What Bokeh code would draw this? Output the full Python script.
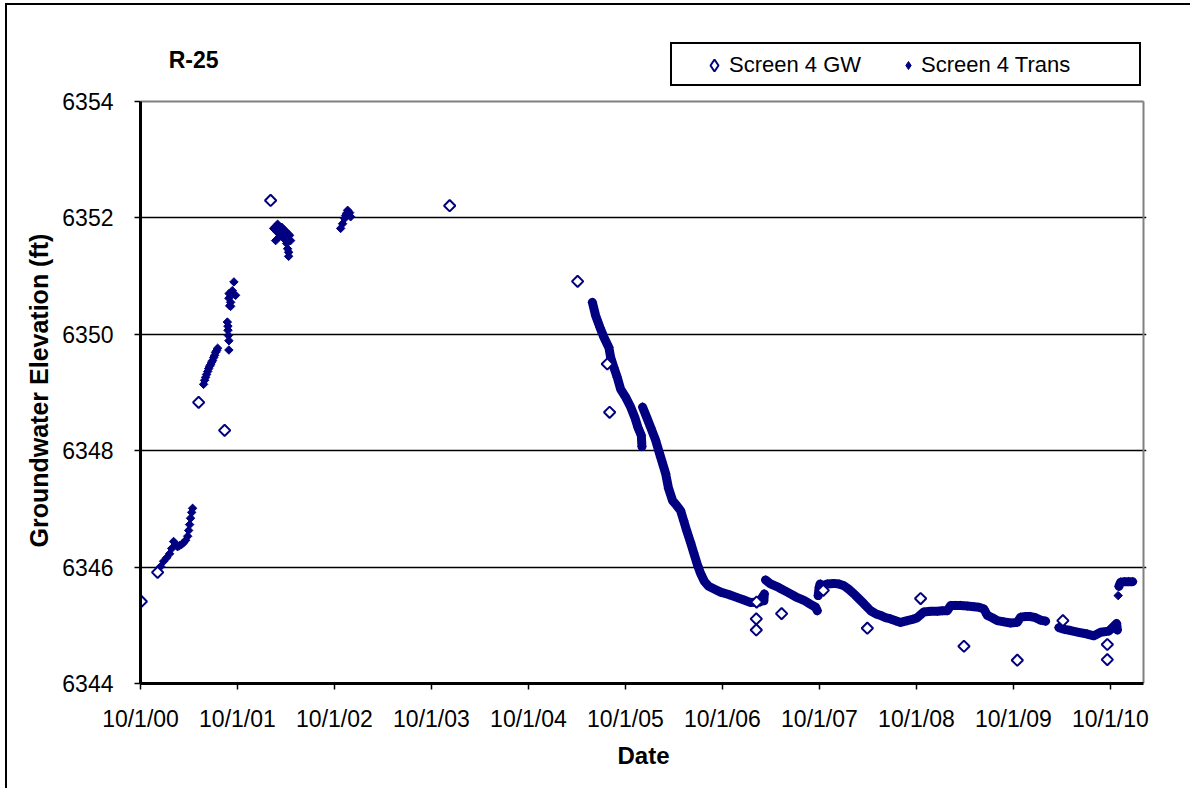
import math
import numpy as np
from bokeh.plotting import figure
from bokeh.models import (FixedTicker, Range1d, Legend, LegendItem, Label, Title,
                          CustomJSTickFormatter)
from bokeh.embed import file_html
from bokeh.resources import INLINE
from bokeh.core.properties import value

# ---------------- data (dates as decimal years) ----------------
tick_years = list(range(2000, 2011))
tick_labels = ["10/1/00", "10/1/01", "10/1/02", "10/1/03", "10/1/04", "10/1/05",
               "10/1/06", "10/1/07", "10/1/08", "10/1/09", "10/1/10"]
y_ticks = [6344, 6346, 6348, 6350, 6352, 6354]

title_text = "R-25"
x_title = "Date"
y_title = "Groundwater  Elevation (ft)"
gw_name = "Screen 4 GW"
trans_name = "Screen 4 Trans"

gw_t = [2000.757, 2000.925, 2001.348, 2001.616, 2002.090, 2003.936, 2005.255,
        2005.561, 2005.585, 2007.101, 2007.097, 2007.097, 2007.358, 2007.788,
        2008.242, 2008.791, 2009.238, 2009.788, 2010.258, 2010.716, 2010.716]
gw_v = [6345.41, 6345.91, 6348.83, 6348.35, 6352.30, 6352.21, 6350.91,
        6349.49, 6348.66, 6345.40, 6345.11, 6344.92, 6345.20, 6345.60,
        6344.95, 6345.46, 6344.64, 6344.40, 6345.08, 6344.67, 6344.41]

trans_t = [
    # late 2000 - spring 2001
    2000.956, 2000.987, 2001.018, 2001.049, 2001.070, 2001.090, 2001.111, 2001.131,
    2001.152, 2001.173, 2001.193, 2001.214, 2001.235, 2001.245, 2001.255, 2001.265,
    2001.276, 2001.286,
    # summer 2001
    2001.399, 2001.410, 2001.420, 2001.430, 2001.441, 2001.451, 2001.461, 2001.472,
    2001.482, 2001.492, 2001.503, 2001.513, 2001.523, 2001.534, 2001.544,
    # Aug-Sep 2001
    2001.644, 2001.650, 2001.650, 2001.655, 2001.660, 2001.660, 2001.660, 2001.662,
    2001.668, 2001.678, 2001.678, 2001.695, 2001.712, 2001.729,
    # winter 2002
    2002.121, 2002.142, 2002.142, 2002.162, 2002.162, 2002.183, 2002.183, 2002.204,
    2002.204, 2002.224, 2002.224, 2002.245, 2002.255, 2002.265, 2002.265, 2002.276,
    2002.276, 2002.286, 2002.296,
    # late 2002
    2002.812, 2002.832, 2002.853, 2002.863, 2002.874, 2002.884, 2002.905, 2002.915,
    # 2005 - 2006 decline
    2005.407, 2005.441, 2005.485, 2005.526, 2005.578,
    2005.595, 2005.629, 2005.664, 2005.698, 2005.750, 2005.802, 2005.843, 2005.877,
    2005.912, 2005.918,
    2005.925, 2005.966, 2006.008, 2006.059, 2006.111, 2006.162, 2006.193, 2006.235,
    2006.276, 2006.317, 2006.348, 2006.379, 2006.420, 2006.451, 2006.492, 2006.523,
    2006.564, 2006.606, 2006.668, 2006.729, 2006.812, 2006.894, 2006.977, 2007.040,
    # 2007
    2007.135, 2007.150, 2007.165, 2007.175, 2007.180,
    2007.193, 2007.245, 2007.327, 2007.417, 2007.503, 2007.588, 2007.657, 2007.709,
    2007.726,
    2007.735, 2007.745, 2007.755, 2007.778,
    # late 2007 - early 2010
    2007.829, 2007.897, 2007.949, 2008.001, 2008.049, 2008.104, 2008.152, 2008.207,
    2008.276, 2008.327, 2008.379, 2008.430, 2008.482, 2008.534, 2008.585, 2008.654,
    2008.706, 2008.757, 2008.825, 2008.894, 2008.963, 2009.015, 2009.066, 2009.101,
    2009.152, 2009.204, 2009.273, 2009.341, 2009.392, 2009.444, 2009.479, 2009.530,
    2009.582, 2009.650, 2009.719, 2009.788, 2009.822, 2009.874, 2009.925, 2009.977,
    2010.028, 2010.080,
    # 2010
    2010.217, 2010.276, 2010.338, 2010.420, 2010.510, 2010.578, 2010.647, 2010.732,
    2010.812, 2010.820, 2010.828, 2010.836, 2010.853, 2010.894, 2010.936, 2010.977,
]
trans_v = [
    6346.01, 6346.10, 6346.16, 6346.23, 6346.32, 6346.44, 6346.39, 6346.35,
    6346.37, 6346.39, 6346.42, 6346.46, 6346.53, 6346.63, 6346.73, 6346.84,
    6346.94, 6347.01,
    6349.14, 6349.21, 6349.26, 6349.31, 6349.36, 6349.41, 6349.45, 6349.48,
    6349.52, 6349.55, 6349.60, 6349.64, 6349.69, 6349.72, 6349.76,
    6350.21, 6350.07, 6350.14, 6349.98, 6349.89, 6349.73, 6350.62, 6350.70,
    6350.49, 6350.55, 6350.48, 6350.75, 6350.90, 6350.67,
    6351.82, 6351.85, 6351.61, 6351.89, 6351.75, 6351.85, 6351.68, 6351.84,
    6351.71, 6351.80, 6351.65, 6351.77, 6351.56, 6351.73, 6351.47, 6351.41,
    6351.34, 6351.70, 6351.61,
    6351.82, 6351.90, 6351.99, 6352.04, 6352.08, 6352.13, 6352.09, 6352.02,
    6350.55, 6350.32, 6350.12, 6349.95, 6349.77,
    6349.61, 6349.43, 6349.26, 6349.06, 6348.92, 6348.75, 6348.58, 6348.40,
    6348.26, 6348.07,
    6348.75, 6348.58, 6348.40, 6348.18, 6347.89, 6347.61, 6347.35, 6347.14,
    6347.06, 6346.97, 6346.80, 6346.63, 6346.42, 6346.25, 6346.03, 6345.89,
    6345.75, 6345.67, 6345.62, 6345.57, 6345.53, 6345.48, 6345.43, 6345.39,
    6345.40, 6345.45, 6345.50, 6345.42, 6345.54,
    6345.78, 6345.71, 6345.65, 6345.57, 6345.49, 6345.43, 6345.36, 6345.31,
    6345.25,
    6345.51, 6345.65, 6345.71, 6345.68,
    6345.71, 6345.72, 6345.71, 6345.68, 6345.62, 6345.54, 6345.46, 6345.37,
    6345.25, 6345.20, 6345.17, 6345.13, 6345.11, 6345.08, 6345.05, 6345.08,
    6345.10, 6345.13, 6345.23, 6345.24, 6345.24, 6345.25, 6345.25, 6345.34,
    6345.34, 6345.34, 6345.33, 6345.32, 6345.31, 6345.28, 6345.17, 6345.13,
    6345.08, 6345.06, 6345.04, 6345.05, 6345.14, 6345.15, 6345.15, 6345.13,
    6345.09, 6345.07,
    6344.96, 6344.93, 6344.91, 6344.88, 6344.85, 6344.82, 6344.88, 6344.90,
    6345.03, 6344.92, 6345.51, 6345.67, 6345.74, 6345.75, 6345.75, 6345.75,
]


def oct1(y):
    leap = (y % 4 == 0 and y % 100 != 0) or y % 400 == 0
    return y + (274 / 366 if leap else 273 / 365)


tick_pos = [oct1(y) for y in tick_years]

NAVY = "#000080"
FONT = "Liberation Sans"

x_start = oct1(2000)
plot_right = 2011.089      # end of the plotting area (gray border)
frame_right = 2011.120     # a few pixels of room past it
y_min, y_max = 6344, 6354
y_top = 6355.392           # headroom for title and legend (drawn inside the frame)

p = figure(width=1185, height=785, output_backend="svg", toolbar_location=None,
           x_range=Range1d(x_start, frame_right), y_range=Range1d(y_min, y_top),
           min_border_left=133, min_border_right=46, min_border_top=15,
           min_border_bottom=107)
p.styles = {"margin-left": "5px", "margin-top": "3px",
            "border-left": "2px solid black", "border-top": "2px solid black"}
p.background_fill_color = "white"
p.border_fill_color = "white"
p.outline_line_color = None

# plot-area border (top and right, gray)
p.segment(x0=[x_start, plot_right], y0=[y_max, y_min],
          x1=[plot_right, plot_right], y1=[y_max, y_max],
          line_color="#808080", line_width=2)

# axes
p.xaxis.ticker = FixedTicker(ticks=tick_pos)
p.xaxis.formatter = CustomJSTickFormatter(
    args=dict(tpos=tick_pos, tlabs=tick_labels),
    code="""
    let best = 0;
    for (let i = 0; i < tpos.length; i++) {
        if (Math.abs(tpos[i] - tick) < Math.abs(tpos[best] - tick)) best = i;
    }
    return tlabs[best];
    """)
p.yaxis.ticker = FixedTicker(ticks=y_ticks)
p.xaxis.bounds = (x_start, plot_right)
p.yaxis.bounds = (y_min, y_max)
for ax in (p.xaxis[0], p.yaxis[0]):
    ax.axis_line_color = "black"
    ax.axis_line_width = 3
    ax.major_tick_line_color = "black"
    ax.major_tick_line_width = 1.5
    ax.major_tick_out = 6
    ax.major_tick_in = 0
    ax.minor_tick_line_color = None
    ax.major_label_text_font = FONT
    ax.major_label_text_font_size = "23px"
    ax.major_label_text_color = "black"
    ax.axis_label_text_font = FONT
    ax.axis_label_text_font_style = "bold"
    ax.axis_label_text_color = "black"
p.xaxis.axis_label = x_title
p.xaxis.axis_label_text_font_size = "24px"
p.xaxis.major_label_standoff = 16
p.yaxis.major_label_standoff = 21
p.xaxis.axis_label_standoff = 7

# y-axis title, placed along the 6344-6354 span of the axis
p.add_layout(Title(text=y_title, align="left", offset=136, standoff=14,
                   text_font=FONT, text_font_size="25px", text_font_style="bold",
                   text_color="black"), "left")

p.xgrid.visible = False
p.ygrid.ticker = FixedTicker(ticks=y_ticks[1:-1])
p.ygrid.grid_line_color = "black"
p.ygrid.grid_line_width = 1.3

# transducer band (continuous runs only)
lt, lv = [], []
prev = None
for t, v in sorted(zip(trans_t, trans_v)):
    if t < 2005:
        continue
    if prev is not None and (t - prev[0] > 0.1 or v - prev[1] > 0.15):
        lt.append(np.nan)
        lv.append(np.nan)
    lt.append(t)
    lv.append(v)
    prev = (t, v)
p.line(lt, lv, line_color=NAVY, line_width=9, line_cap="round", line_join="round")

r_tr = p.scatter(trans_t, trans_v, marker="square", angle=math.pi / 4, size=6,
                 fill_color=NAVY, line_color=NAVY, line_width=1)
r_gw = p.scatter(gw_t, gw_v, marker="square", angle=math.pi / 4, size=8,
                 fill_color="white", line_color=NAVY, line_width=2)

# legend-only glyphs (diamond markers, no data drawn)
lg_gw = p.scatter([np.nan], [np.nan], marker="diamond", fill_color="white",
                  line_color=NAVY, line_width=2)
lg_tr = p.scatter([np.nan], [np.nan], marker="diamond", fill_color=NAVY,
                  line_color=NAVY, line_width=1)
# invisible renderer for legend box
r_box = p.scatter([2005.0], [6350.0], size=1, alpha=0)

box_legend = Legend(items=[LegendItem(label=value(""), renderers=[r_box])],
                    location=(530, 597), orientation="horizontal", padding=0,
                    margin=0, spacing=0, glyph_width=467, glyph_height=40,
                    label_standoff=0, label_width=0, label_height=0,
                    label_text_font_size="1px",
                    border_line_color="black", border_line_width=2,
                    border_line_alpha=1,
                    background_fill_color="white", background_fill_alpha=1)
p.add_layout(box_legend)

common = dict(orientation="horizontal", padding=0, margin=0, spacing=0,
              label_text_font=FONT, label_text_font_size="22px",
              label_text_color="black", border_line_alpha=0,
              background_fill_alpha=0)
legend_gw = Legend(items=[LegendItem(label=value(gw_name), renderers=[lg_gw])],
                   location=(559, 603), glyph_width=30, glyph_height=30,
                   label_standoff=0, label_height=26, **common)
legend_tr = Legend(items=[LegendItem(label=value(trans_name), renderers=[lg_tr])],
                   location=(758, 605), glyph_width=20, glyph_height=26,
                   label_standoff=3, label_height=26, **common)
p.add_layout(legend_gw)
p.add_layout(legend_tr)

p.add_layout(Label(x=x_start + 0.29, y=6354.72, text=title_text,
                   text_font=FONT, text_font_size="23px", text_font_style="bold",
                   text_color="black", text_baseline="alphabetic"))

open("out.html", "w").write(file_html(p, INLINE))
